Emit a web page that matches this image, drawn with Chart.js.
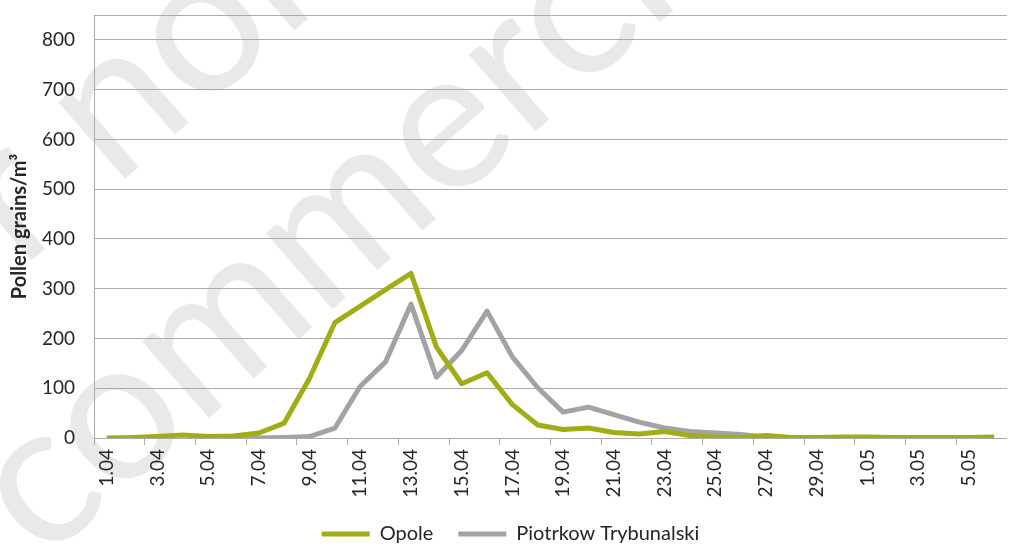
<!DOCTYPE html>
<html>
<head>
<meta charset="utf-8">
<script src="https://cdn.jsdelivr.net/npm/chart.js@4.4.0/dist/chart.umd.min.js"></script>
<style>
    html, body { margin: 0; padding: 0; background: #fff; overflow: hidden; }
    #wrap { position: relative; width: 1021px; height: 546px; }
</style>
</head>
<body>
<div id="wrap"><canvas id="pollenChart"></canvas></div>
<script>
// Days of the season (category axis)
const days = [
    '1.04', '2.04', '3.04', '4.04', '5.04', '6.04', '7.04', '8.04', '9.04', '10.04',
    '11.04', '12.04', '13.04', '14.04', '15.04', '16.04', '17.04', '18.04', '19.04', '20.04',
    '21.04', '22.04', '23.04', '24.04', '25.04', '26.04', '27.04', '28.04', '29.04', '30.04',
    '1.05', '2.05', '3.05', '4.05', '5.05', '6.05'
];

// Pollen grains/m3
const opole = [
    0, 1, 3, 6, 3, 4, 10, 30, 120, 232,
    265, 298, 331, 183, 109, 131, 67, 26, 17, 20,
    11, 8, 13, 5, 2, 1, 5, 1, 1, 2,
    2, 1, 1, 1, 1, 2
];
const piotrkow = [
    null, null, null, null, null, 0, 0, 1, 3, 20,
    104, 153, 269, 122, 176, 255, 163, 101, 52, 62,
    47, 32, 20, 13, 10, 7, 2, 0, 1, 1,
    0, 0, 0, 0, null, null
];

const yTicks = [0, 100, 200, 300, 400, 500, 600, 700, 800];
const yMax = 850;

const fontFamily = "Lato, 'Open Sans', sans-serif";
const textColor = '#262626';
const gridColor = '#ababab';

// faint "for non commercial" watermark behind the plot
const watermark = {
    id: 'watermark',
    beforeDraw(chart) {
        const ctx = chart.ctx;
        ctx.save();
        ctx.fillStyle = '#e9e9e9';
        ctx.font = "200px " + fontFamily;
        ctx.translate(0, 515);
        ctx.rotate(-0.72);
        ctx.fillText('commercial', 0, 0);
        ctx.fillText('For non', -40, -235);
        ctx.restore();
    }
};

let canvas = document.getElementById('pollenChart');

new Chart(canvas, {
    type: 'line',
    data: {
        labels: days,
        datasets: [
            {
                label: 'Opole',
                data: opole,
                borderColor: '#a0ad14',
                backgroundColor: '#a0ad14',
                borderWidth: 5,
                borderJoinStyle: 'round',
                pointRadius: 0,
                tension: 0
            },
            {
                label: 'Piotrkow Trybunalski',
                data: piotrkow,
                borderColor: '#a3a3a6',
                backgroundColor: '#a3a3a6',
                borderWidth: 5,
                borderJoinStyle: 'round',
                pointRadius: 0,
                tension: 0
            }
        ]
    },
    options: {
        responsive: true,
        maintainAspectRatio: false,
        animation: false,
        layout: {
            padding: { left: 0, right: 0, top: 15, bottom: -8 }
        },
        plugins: {
            tooltip: { enabled: false },
            legend: {
                position: 'bottom',
                labels: {
                    color: textColor,
                    font: { family: fontFamily, size: 20 },
                    usePointStyle: true,
                    pointStyle: 'line',
                    pointStyleWidth: 48,
                    padding: 25
                }
            }
        },
        scales: {
            x: {
                offset: true,
                afterFit: function (scale) { scale.height = 61; },
                grid: {
                    offset: true,
                    drawOnChartArea: false,
                    drawTicks: true,
                    tickLength: 7,
                    color: ctx => ctx.index % 2 === 0 ? gridColor : 'rgba(0,0,0,0)'
                },
                border: { display: true, color: gridColor },
                ticks: {
                    autoSkip: false,
                    minRotation: 90,
                    maxRotation: 90,
                    padding: 4,
                    color: textColor,
                    font: { family: fontFamily, size: 19 },
                    callback: function (val, i) {
                        return i % 2 === 0 ? this.getLabelForValue(val) : '';
                    }
                }
            },
            y: {
                min: 0,
                max: yMax,
                afterFit: function (scale) { scale.width = 94; },
                afterBuildTicks: function (scale) {
                    scale.ticks = yTicks.concat([yMax]).map(v => ({ value: v }));
                },
                grid: {
                    color: gridColor,
                    drawTicks: true,
                    tickLength: 19,
                    tickColor: 'rgba(0,0,0,0)'
                },
                border: { display: true, color: gridColor },
                ticks: {
                    padding: 0,
                    color: textColor,
                    font: { family: fontFamily, size: 19 },
                    callback: v => v > 800 ? '' : v
                },
                title: {
                    display: true,
                    text: 'Pollen grains/m³',
                    color: textColor,
                    font: { family: fontFamily, size: 20, weight: 'bold' },
                    padding: { top: 8, bottom: 0 }
                }
            }
        }
    },
    plugins: [watermark]
});
</script>
</body>
</html>
